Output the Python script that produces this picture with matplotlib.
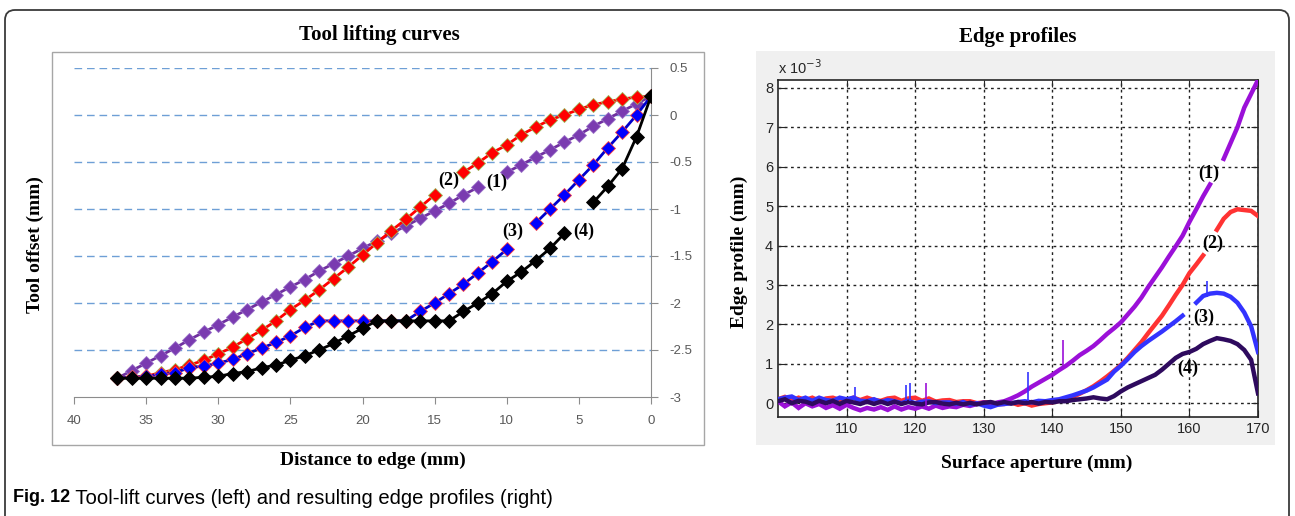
import numpy as np
import matplotlib
matplotlib.use("Agg")
import matplotlib.pyplot as plt
from matplotlib.patches import FancyBboxPatch, Rectangle

nan = np.nan

# ---------------- left chart: tool lifting curves ----------------
dist = list(range(37, -1, -1))

lift_1 = [-2.80, -2.72, -2.64, -2.56, -2.48, -2.39, -2.31, -2.23, -2.15, -2.07,
          -1.99, -1.91, -1.83, -1.75, -1.66, -1.58, -1.50, -1.42, -1.34, -1.26,
          -1.18, -1.10, -1.02, -0.94, -0.85, -0.77, nan, -0.61, -0.53, -0.45,
          -0.37, -0.29, -0.21, -0.12, -0.04, 0.04, 0.12, 0.20]
lift_2 = [-2.80, -2.79, -2.78, -2.74, -2.71, -2.66, -2.61, -2.54, -2.47, -2.38,
          -2.29, -2.19, -2.07, -1.97, -1.86, -1.74, -1.62, -1.49, -1.36, -1.23,
          -1.11, -0.98, -0.85, nan, -0.61, -0.51, -0.40, -0.32, -0.21, -0.13,
          -0.05, 0.00, 0.06, 0.11, 0.14, 0.17, 0.19, 0.20]
lift_3 = [-2.80, -2.79, -2.78, -2.76, -2.74, -2.69, -2.67, -2.64, -2.60, -2.54,
          -2.48, -2.42, -2.35, -2.26, -2.19, -2.19, -2.19, -2.19, -2.19, -2.19,
          -2.19, -2.09, -2.00, -1.90, -1.80, -1.68, -1.56, -1.43, nan, -1.15,
          -1.00, -0.85, -0.69, -0.53, -0.35, -0.18, 0.00, 0.20]
lift_4 = [-2.80, -2.80, -2.80, -2.80, -2.80, -2.80, -2.79, -2.78, -2.75, -2.73,
          -2.69, -2.66, -2.61, -2.56, -2.50, -2.43, -2.35, -2.27, -2.19, -2.19,
          -2.19, -2.19, -2.19, -2.19, -2.09, -2.00, -1.90, -1.77, -1.67, -1.55,
          -1.42, -1.26, nan, -0.93, -0.76, -0.57, -0.23, 0.20]

lift_labels = ["(1)", "(2)", "(3)", "(4)"]
lift_label_x = [10.7, 14.0, 9.6, 4.65]
lift_label_y = [-0.72, -0.69, -1.24, -1.24]

left_xticks = [40, 35, 30, 25, 20, 15, 10, 5, 0]
left_yticks = [0.5, 0, -0.5, -1, -1.5, -2, -2.5, -3]
left_ytick_labels = ["0.5", "0", "-0.5", "-1", "-1.5", "-2", "-2.5", "-3"]

# ---------------- right chart: edge profiles (x 1e-3 mm) ----------------
aperture = list(range(100, 171))

prof_1 = [0.05, -0.08, 0.02, -0.12, 0.00, -0.08, -0.02, -0.12, -0.05, -0.14,
          -0.04, -0.12, -0.18, -0.12, -0.16, -0.10, -0.17, -0.08, -0.16, -0.10,
          -0.14, -0.08, -0.14, -0.06, -0.12, -0.08, -0.10, -0.04, -0.07, -0.02,
          0.02, -0.04, 0.02, 0.05, 0.12, 0.20, 0.30, 0.42, 0.52, 0.62,
          0.72, 0.84, 0.95, 1.08, 1.22, 1.33, 1.45, 1.60, 1.76, 1.90,
          2.05, 2.25, 2.45, 2.68, 2.95, 3.20, 3.45, 3.72, 3.98, 4.25,
          4.60, 4.92, 5.25, 5.55, nan, 6.20, 6.60, 7.00, 7.50, 7.85,
          8.20]
prof_2 = [0.10, 0.16, 0.06, 0.14, 0.08, 0.14, 0.06, 0.12, 0.14, 0.08,
          0.06, 0.14, 0.08, 0.14, 0.08, 0.06, 0.12, 0.14, 0.06, 0.12,
          0.14, 0.06, 0.12, 0.04, 0.07, 0.08, 0.03, 0.05, 0.05, 0.00,
          0.02, 0.02, -0.02, -0.02, 0.02, -0.04, 0.00, -0.06, -0.02, 0.00,
          0.02, 0.06, 0.10, 0.16, 0.24, 0.33, 0.43, 0.55, 0.68, 0.82,
          0.97, 1.15, 1.35, 1.55, 1.78, 2.00, 2.22, 2.48, 2.75, 3.00,
          3.30, 3.52, 3.75, nan, 4.40, 4.68, 4.85, 4.92, 4.90, 4.88,
          4.75]
prof_3 = [0.10, 0.14, 0.17, 0.08, 0.14, 0.06, 0.14, 0.08, 0.06, 0.14,
          0.10, 0.14, 0.06, 0.05, 0.10, 0.03, 0.08, 0.05, 0.00, 0.06,
          0.00, 0.04, 0.05, 0.00, 0.02, 0.02, -0.02, 0.03, -0.04, 0.00,
          -0.06, -0.10, -0.04, -0.02, 0.00, 0.03, 0.05, 0.02, 0.06, 0.05,
          0.08, 0.10, 0.15, 0.20, 0.26, 0.32, 0.40, 0.50, 0.60, 0.80,
          0.95, 1.12, 1.30, 1.45, 1.58, 1.70, 1.82, 1.95, 2.08, 2.22,
          nan, 2.55, 2.72, 2.78, 2.80, 2.78, 2.70, 2.55, 2.30, 1.95,
          1.30]
prof_4 = [0.05, 0.10, 0.00, 0.06, 0.04, -0.02, 0.06, 0.00, 0.06, -0.02,
          0.06, 0.02, -0.02, 0.04, -0.02, 0.04, -0.02, 0.04, -0.02, 0.03,
          -0.01, -0.03, 0.02, 0.03, -0.01, -0.03, 0.01, -0.03, 0.01, -0.03,
          0.01, 0.03, -0.01, 0.03, -0.01, 0.03, 0.00, 0.03, -0.01, 0.03,
          0.02, 0.05, 0.05, 0.08, 0.10, 0.12, 0.15, 0.12, 0.10, 0.18,
          0.30, 0.40, 0.48, 0.56, 0.64, 0.72, 0.85, 1.00, 1.15, 1.25,
          1.30, 1.38, 1.50, 1.58, 1.65, 1.62, 1.58, 1.50, 1.35, 1.10,
          0.25]

# single spikes in the traces
spike_x_1 = [121.6, 141.5]
spike_lo_1 = [-0.10, 0.90]
spike_hi_1 = [0.50, 1.60]
spike_x_3 = [111.2, 118.6, 119.3, 136.4, 162.5]
spike_lo_3 = [0.10, 0.05, 0.05, 0.05, 2.70]
spike_hi_3 = [0.40, 0.45, 0.50, 0.80, 3.10]

prof_labels = ["(1)", "(2)", "(3)", "(4)"]
prof_label_x = [162.8, 163.4, 162.1, 159.8]
prof_label_y = [5.84, 4.06, 2.18, 0.89]

right_xticks = [110, 120, 130, 140, 150, 160, 170]
right_yticks = [0, 1, 2, 3, 4, 5, 6, 7, 8]

serif = ["Liberation Serif", "DejaVu Serif"]
sans = ["Liberation Sans", "DejaVu Sans"]

W, H = 1295, 516
fig = plt.figure(figsize=(W / 100, H / 100), dpi=100)

# background layer in pixel coords
bg = fig.add_axes([0, 0, 1, 1], zorder=0)
bg.set_xlim(0, W)
bg.set_ylim(H, 0)
bg.axis("off")
bg.add_patch(FancyBboxPatch((5, 10), W - 11, 540, boxstyle="round,pad=0,rounding_size=10",
                            fc="white", ec="#3a3a3a", lw=1.3))
bg.add_patch(Rectangle((52, 52), 652, 393, fc="white", ec="#a6a6a6", lw=1))
bg.add_patch(Rectangle((756, 51), 519, 394, fc="#f0f0f0", ec="none"))

bg.text(379, 35, "Tool lifting curves", family=serif, weight="bold", fontsize=15,
        ha="center", va="center")
bg.text(1018, 37, "Edge profiles", family=serif, weight="bold", fontsize=15,
        ha="center", va="center")
bg.text(35, 245, "Tool offset (mm)", family=serif, weight="bold", fontsize=14,
        ha="center", va="center", rotation=90)
bg.text(373, 460, "Distance to edge (mm)", family=serif, weight="bold", fontsize=14,
        ha="center", va="center")
bg.text(739, 252, "Edge profile (mm)", family=serif, weight="bold", fontsize=14,
        ha="center", va="center", rotation=90)
bg.text(1037, 463, "Surface aperture (mm)", family=serif, weight="bold", fontsize=14,
        ha="center", va="center")
bg.text(778, 68, r"x 10$^{-3}$", family=sans, fontsize=10.5, color="#262626",
        ha="left", va="center")
t1 = bg.text(13, 498, "Fig. 12", family=sans, weight="bold",
             fontsize=13, ha="left", va="center")
bg.annotate(" Tool-lift curves (left) and resulting edge profiles (right)",
            xycoords=t1, xy=(1, 0.5), va="center", ha="left",
            family=sans, fontsize=14.6)

# ---------------- left axes ----------------
ax1 = fig.add_axes([74 / W, 1 - 397 / H, 577 / W, 329 / H], zorder=2)
ax1.patch.set_alpha(0)
ax1.set_xlim(40, 0)
ax1.set_ylim(-3, 0.5)
for lev in left_yticks[:-1]:
    ax1.axhline(lev, color="#6e9fd6", lw=1, ls=(0, (5.5, 3.5)), zorder=1)

series_left = [
    (lift_1, "#7030a0", "#7a3bb0", "#9a70c8"),
    (lift_2, "#ff0000", "#ff0000", "#9bbb59"),
    (lift_3, "#0000cc", "#0000ff", "#ff4040"),
    (lift_4, "#000000", "#000000", "#000000"),
]
for vals, lc, mfc, mec in series_left:
    ax1.plot(dist, vals, color=lc, lw=2, marker="D", ms=7, mfc=mfc, mec=mec,
             mew=0.6, zorder=3)
for lab, lx, ly in zip(lift_labels, lift_label_x, lift_label_y):
    ax1.text(lx, ly, lab, family=serif, weight="bold", fontsize=13,
             ha="center", va="center", zorder=4)

ax1.spines["top"].set_visible(False)
ax1.spines["left"].set_visible(False)
ax1.spines["bottom"].set_color("#8c8c8c")
ax1.spines["right"].set_color("#8c8c8c")
ax1.yaxis.tick_right()
ax1.set_xticks(left_xticks)
ax1.set_xticklabels([str(v) for v in left_xticks])
ax1.set_yticks(left_yticks)
ax1.set_yticklabels(left_ytick_labels)
ax1.tick_params(direction="out", length=5, color="#8c8c8c", labelcolor="#595959",
                labelsize=9.5, pad=8)
for lab in ax1.get_xticklabels() + ax1.get_yticklabels():
    lab.set_family(sans)

# ---------------- right axes ----------------
ax2 = fig.add_axes([778 / W, 1 - 417 / H, 480 / W, 337 / H], zorder=2)
ax2.set_facecolor("white")
ax2.set_xlim(100, 170)
ax2.set_ylim(-0.35, 8.2)

series_right = [
    (prof_2, "#ff3333"),
    (prof_1, "#9b10d8"),
    (prof_3, "#3333ff"),
    (prof_4, "#2e0a5e"),
]
for vals, col in series_right:
    ax2.plot(aperture, vals, color=col, lw=3.2, solid_joinstyle="miter", zorder=3)
ax2.vlines(spike_x_1, spike_lo_1, spike_hi_1, color="#9b10d8", lw=1.2, zorder=3)
ax2.vlines(spike_x_3, spike_lo_3, spike_hi_3, color="#3333ff", lw=1.2, zorder=3)
for lab, lx, ly in zip(prof_labels, prof_label_x, prof_label_y):
    ax2.text(lx, ly, lab, family=serif, weight="bold", fontsize=13,
             ha="center", va="center", zorder=4)

ax2.set_xticks(right_xticks)
ax2.set_yticks(right_yticks)
ax2.grid(True, color="#222222", ls=(0, (2, 2.5)), lw=1)
ax2.set_axisbelow(True)
for sp in ax2.spines.values():
    sp.set_color("#262626")
    sp.set_linewidth(1.2)
ax2.tick_params(direction="in", length=5, top=True, right=True, color="#262626",
                labelcolor="#262626", labelsize=10.5)
for lab in ax2.get_xticklabels() + ax2.get_yticklabels():
    lab.set_family(sans)

fig.savefig("out.png", dpi=100)
